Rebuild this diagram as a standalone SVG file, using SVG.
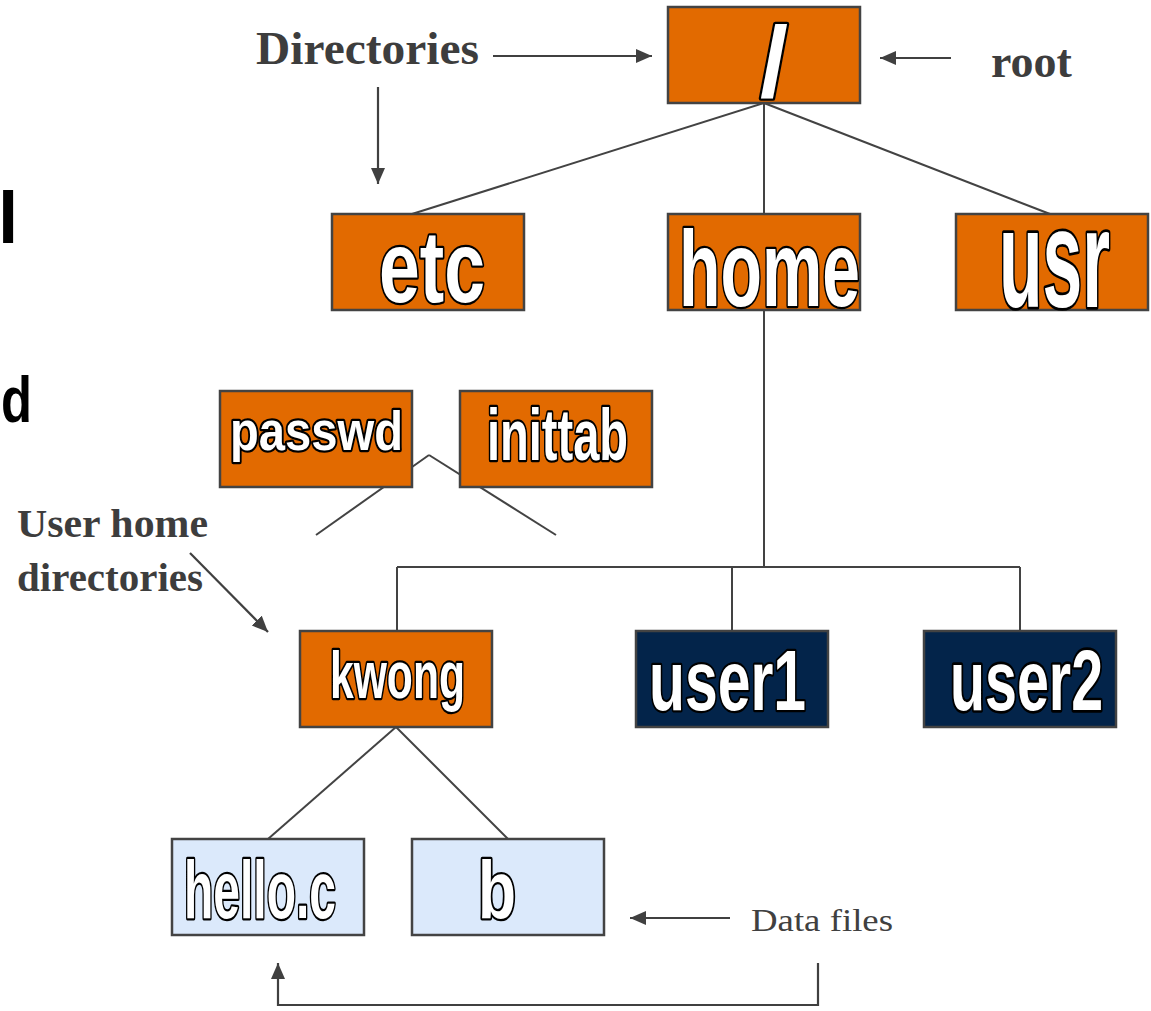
<svg xmlns="http://www.w3.org/2000/svg" width="1151" height="1011" viewBox="0 0 1151 1011">
<style>
.box{stroke:#434343;stroke-width:2.5}
.dir{fill:#E26A00}
.usr{fill:#03244A}
.file{fill:#DBE9FB}
.lbl{font-family:"Liberation Sans",Arial,sans-serif;font-weight:bold;fill:#fff;stroke:#000;stroke-width:4.5;paint-order:stroke;stroke-linejoin:round}
.conn{stroke:#434343;stroke-width:2;fill:none}
.arr{stroke:#404040;stroke-width:2.2;fill:none;marker-end:url(#ah)}
.note{font-family:"Liberation Serif","Times New Roman",serif;font-weight:bold;fill:#3d3d3d}
.noter{font-family:"Liberation Serif","Times New Roman",serif;fill:#404040}
.side{font-family:"Liberation Sans",Arial,sans-serif;font-weight:bold;fill:#000}
</style>
<defs>
<marker id="ah" markerUnits="userSpaceOnUse" markerWidth="17" markerHeight="15" refX="16" refY="7" orient="auto">
<path d="M0,0 L16,7 L0,14 z" fill="#404040"/>
</marker>
</defs>
<rect width="1151" height="1011" fill="#fff"/>
<g id="connectors">
<path class="conn" d="M764 103 L412 214"/>
<path class="conn" d="M764 103 V214"/>
<path class="conn" d="M764 103 L1050 214"/>
<path class="conn" d="M764 310 V567"/>
<path class="conn" d="M397 567 H1020"/>
<path class="conn" d="M397 567 V631"/>
<path class="conn" d="M732 567 V631"/>
<path class="conn" d="M1020 567 V631"/>
<path class="conn" d="M396 727 L268 839"/>
<path class="conn" d="M396 727 L508 839"/>
<path class="conn" d="M429 455 L316 535"/>
<path class="conn" d="M429 455 L556 535"/>
</g>
<g id="annotations">
<text class="note" x="256" y="64" font-size="47" textLength="223" lengthAdjust="spacingAndGlyphs">Directories</text>
<path class="arr" d="M493 56 H652"/>
<path class="arr" d="M378 87 V184"/>
<text class="note" x="991" y="77" font-size="46">root</text>
<path class="arr" d="M951 58 H880"/>
<text class="note" x="17" y="537" font-size="40" textLength="191" lengthAdjust="spacingAndGlyphs">User home</text>
<text class="note" x="17" y="591" font-size="40" textLength="186" lengthAdjust="spacingAndGlyphs">directories</text>
<path class="arr" d="M190 553 L268 632"/>
<text class="noter" x="751" y="931" font-size="32" textLength="142" lengthAdjust="spacingAndGlyphs">Data files</text>
<path class="arr" d="M730 918 H630"/>
<path class="arr" d="M818 963 V1005 H278 V963"/>
<text class="side" x="-2" y="243" font-size="73">l</text>
<text class="side" x="1" y="422" font-size="65" textLength="31" lengthAdjust="spacingAndGlyphs">d</text>
</g>
<g id="node-root">
<rect class="box dir" x="668" y="7" width="192" height="96"/>
<text class="lbl" x="760" y="97" font-size="100" textLength="28" lengthAdjust="spacingAndGlyphs">/</text>
</g>
<g id="node-etc">
<rect class="box dir" x="332" y="214" width="192" height="96"/>
<text class="lbl" x="379" y="302" font-size="102" textLength="106" lengthAdjust="spacingAndGlyphs">etc</text>
</g>
<g id="node-home">
<rect class="box dir" x="668" y="214" width="192" height="96"/>
<text class="lbl" x="679" y="306" font-size="108" textLength="181" lengthAdjust="spacingAndGlyphs">home</text>
</g>
<g id="node-usr">
<rect class="box dir" x="956" y="214" width="192" height="96"/>
<text class="lbl" transform="translate(999 307) scale(0.51 1)" font-size="140" vector-effect="non-scaling-stroke">usr</text>
</g>
<g id="node-passwd">
<rect class="box dir" x="220" y="391" width="192" height="96"/>
<text class="lbl" x="230" y="450" font-size="56" textLength="173" lengthAdjust="spacingAndGlyphs">passwd</text>
</g>
<g id="node-inittab">
<rect class="box dir" x="460" y="391" width="192" height="96"/>
<text class="lbl" x="487" y="460" font-size="72" textLength="141" lengthAdjust="spacingAndGlyphs">inittab</text>
</g>
<g id="node-kwong">
<rect class="box dir" x="300" y="631" width="192" height="96"/>
<text class="lbl" x="330" y="698" font-size="66" textLength="135" lengthAdjust="spacingAndGlyphs">kwong</text>
</g>
<g id="node-user1">
<rect class="box usr" x="636" y="631" width="192" height="96"/>
<text class="lbl" x="649" y="710" font-size="85" textLength="157" lengthAdjust="spacingAndGlyphs">user1</text>
</g>
<g id="node-user2">
<rect class="box usr" x="924" y="631" width="192" height="96"/>
<text class="lbl" transform="translate(950 710) scale(0.675 1)" font-size="85" vector-effect="non-scaling-stroke">user2</text>
</g>
<g id="node-hello">
<rect class="box file" x="172" y="839" width="192" height="96"/>
<text class="lbl" x="184" y="918" font-size="82" textLength="152" lengthAdjust="spacingAndGlyphs">hello.c</text>
</g>
<g id="node-b">
<rect class="box file" x="412" y="839" width="192" height="96"/>
<text class="lbl" x="478" y="918" font-size="82" textLength="38" lengthAdjust="spacingAndGlyphs">b</text>
</g>
</svg>
